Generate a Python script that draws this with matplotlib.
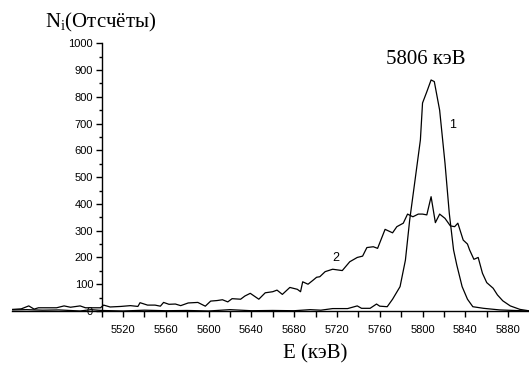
import matplotlib
matplotlib.use("Agg")
import matplotlib.pyplot as plt
from matplotlib.ticker import MultipleLocator, FixedLocator

# curve 1 - narrow peak
e1 = [5417, 5430, 5445, 5460, 5470, 5480, 5490, 5500, 5520, 5540, 5560, 5580,
      5600, 5620, 5640, 5660, 5680, 5695, 5705, 5716, 5730, 5739, 5743, 5751,
      5757, 5760, 5767, 5772, 5779, 5784, 5788, 5793, 5798, 5800, 5804, 5808,
      5811, 5816, 5821, 5825, 5829, 5832, 5837, 5842, 5847, 5857, 5872, 5899]
n1 = [4, 5, 3, 4, 2, 0, 5, 2, 0, 3, 1, 2,
      0, 5, 1, 2, 1, 5, 3, 9, 9, 19, 10, 10,
      26, 18, 16, 44, 91, 190, 340, 489, 639, 777, 819, 863,
      857, 750, 552, 365, 228, 172, 91, 44, 16, 10, 4, 0]

# curve 2 - broad spectrum
e2 = [5417, 5425, 5432, 5437, 5441, 5450, 5458, 5465, 5471, 5480, 5485, 5499,
      5502, 5508, 5518, 5527, 5534, 5536, 5543, 5550, 5555, 5558, 5563, 5569,
      5574, 5581, 5590, 5592, 5597, 5602, 5608, 5613, 5618, 5622, 5630, 5634,
      5639, 5647, 5653, 5660, 5664, 5669, 5676, 5683, 5686, 5688, 5693, 5698,
      5701, 5704, 5709, 5716, 5725, 5732, 5739, 5744, 5748, 5754, 5758, 5765,
      5772, 5776, 5782, 5786, 5791, 5796, 5800, 5804, 5808, 5812, 5816, 5821,
      5826, 5830, 5833, 5838, 5842, 5844, 5848, 5852, 5856, 5860, 5866, 5870,
      5875, 5882, 5891, 5899]
n2 = [6, 8, 19, 7, 12, 12, 12, 19, 14, 19, 12, 12,
      22, 15, 17, 20, 17, 31, 22, 22, 18, 32, 25, 26,
      20, 30, 32, 28, 18, 37, 39, 42, 34, 46, 44, 56,
      66, 44, 68, 72, 78, 62, 88, 81, 72, 109, 100, 116,
      126, 128, 147, 156, 151, 184, 200, 205, 237, 240, 234, 305,
      292, 315, 328, 362, 352, 362, 362, 359, 427, 330, 362, 346,
      318, 315, 328, 265, 250, 228, 193, 200, 141, 106, 85, 60,
      38, 19, 6, 1]

x_ticks = [5520, 5560, 5600, 5640, 5680, 5720, 5760, 5800, 5840, 5880]
y_ticks = [0, 100, 200, 300, 400, 500, 600, 700, 800, 900, 1000]

fig = plt.figure(figsize=(5.29, 3.72), dpi=100)
ax = fig.add_axes([0.022, 0.164, 0.978, 0.7196])

ax.plot(e1, n1, color="black", lw=0.9)
ax.plot(e2, n2, color="black", lw=0.9)

ax.set_xlim(5416, 5899.5)
ax.set_ylim(0, 1000)

ax.spines["top"].set_visible(False)
ax.spines["right"].set_visible(False)
ax.spines["left"].set_position(("data", 5500))
ax.spines["left"].set_bounds(0, 1000)
ax.spines["bottom"].set_position(("data", 0))
for s in ("left", "bottom"):
    ax.spines[s].set_linewidth(1.0)

ax.xaxis.set_major_locator(FixedLocator(x_ticks))
ax.xaxis.set_minor_locator(FixedLocator([5500, 5540, 5580, 5620, 5660, 5700,
                                         5740, 5780, 5820, 5860]))
ax.yaxis.set_major_locator(FixedLocator(y_ticks))
ax.yaxis.set_minor_locator(MultipleLocator(50))
ax.tick_params(axis="x", which="both", direction="out", length=4, width=1,
               pad=6, labelsize=8)
ax.tick_params(axis="y", which="major", direction="out", length=4, width=1,
               pad=2, labelsize=8)
ax.tick_params(axis="y", which="minor", direction="out", length=2, width=1)
for lab in ax.get_xticklabels() + ax.get_yticklabels():
    lab.set_family("Liberation Sans")

serif = "Liberation Serif"
fig.text(0.085, 0.94, r"N$_\mathregular{i}$(Отсчёты)", family=serif,
         fontsize=15, va="center", ha="left")
fig.text(0.805, 0.84, "5806 кэВ", family=serif, fontsize=15,
         va="center", ha="center")
fig.text(0.595, 0.048, "E (кэВ)", family=serif, fontsize=15,
         va="center", ha="center")
ax.text(5828, 695, "1", family="Liberation Sans", fontsize=9,
        ha="center", va="center")
ax.text(5719, 198, "2", family="Liberation Sans", fontsize=9,
        ha="center", va="center")

fig.savefig("out.png", dpi=100)
